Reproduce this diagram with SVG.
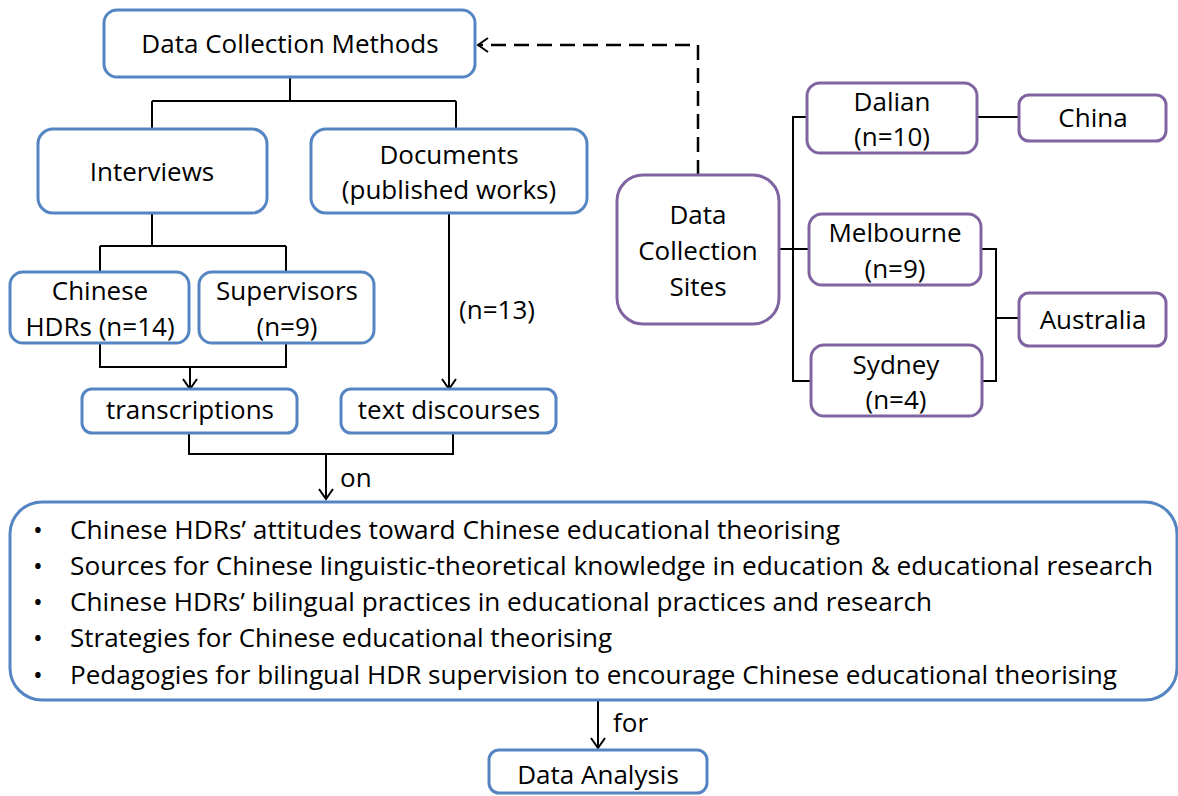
<svg xmlns="http://www.w3.org/2000/svg" width="1178" height="796" viewBox="0 0 1178 796">
  <style>
    text { font-family: "Open Sans", "Liberation Sans", sans-serif; font-size: 26px; fill: #000; }
    .c { text-anchor: middle; }
    .blue { fill: #fff; stroke: #5485C2; stroke-width: 3; }
    .purple { fill: #fff; stroke: #8064A2; stroke-width: 3; }
    .wire { fill: none; stroke: #000; stroke-width: 2; }
    .dash { fill: none; stroke: #000; stroke-width: 2.5; stroke-dasharray: 15 8; }
  </style>
  <defs>
    <marker id="arrow" markerWidth="16" markerHeight="16" refX="12" refY="8" orient="auto" markerUnits="userSpaceOnUse">
      <path d="M2,1 L12,8 L2,15" fill="none" stroke="#000" stroke-width="2"/>
    </marker>
  </defs>

  <rect width="1178" height="796" fill="#fff"/>

  <!-- connectors -->
  <g id="connectors">
    <path class="wire" d="M290,77 V101 M152,101 H456 M152,101 V129 M456,101 V129"/>
    <path class="wire" d="M152,213 V246 M100,246 H286 M100,246 V272 M286,246 V272"/>
    <path class="wire" d="M100,343 V367 H286 V343"/>
    <path class="wire" d="M190,367 V389" marker-end="url(#arrow)"/>
    <path class="wire" d="M449,213 V389" marker-end="url(#arrow)"/>
    <path class="wire" d="M189,433 V454 H453 V433"/>
    <path class="wire" d="M326,454 V499" marker-end="url(#arrow)"/>
    <path class="wire" d="M598,700 V748" marker-end="url(#arrow)"/>
    <path class="dash" d="M698,175 V45 H478" marker-end="url(#arrow)"/>
    <path class="wire" d="M779,249 H809 M807,117 H793 V381 H811"/>
    <path class="wire" d="M977,117 H1019"/>
    <path class="wire" d="M981,249 H996 V381 H982 M996,318 H1019"/>
  </g>

  <!-- method nodes -->
  <g id="methods">
    <rect class="blue" x="104" y="10" width="371" height="67" rx="13"/>
    <text class="c" x="290" y="53">Data Collection Methods</text>
  </g>
  <g id="interviews">
    <rect class="blue" x="38" y="129" width="229" height="84" rx="15"/>
    <text class="c" x="152" y="181">Interviews</text>
  </g>
  <g id="documents">
    <rect class="blue" x="311" y="129" width="276" height="84" rx="15"/>
    <text class="c" x="449" y="164">Documents</text>
    <text class="c" x="449" y="199">(published works)</text>
  </g>
  <g id="hdrs">
    <rect class="blue" x="10" y="272" width="179" height="71" rx="13"/>
    <text class="c" x="100" y="300">Chinese</text>
    <text class="c" x="100" y="336">HDRs (n=14)</text>
  </g>
  <g id="supervisors">
    <rect class="blue" x="199" y="272" width="175" height="71" rx="13"/>
    <text class="c" x="287" y="300">Supervisors</text>
    <text class="c" x="287" y="336">(n=9)</text>
  </g>
  <g id="transcriptions">
    <rect class="blue" x="82" y="389" width="215" height="44" rx="10"/>
    <text class="c" x="190" y="419">transcriptions</text>
  </g>
  <g id="discourses">
    <rect class="blue" x="341" y="389" width="215" height="44" rx="10"/>
    <text class="c" x="449" y="419">text discourses</text>
  </g>
  <g id="labels">
    <text class="c" x="497" y="319">(n=13)</text>
    <text x="340" y="487">on</text>
    <text x="613" y="732">for</text>
  </g>

  <!-- research focus list -->
  <g id="focus">
    <rect class="blue" x="10" y="502" width="1167" height="198" rx="32"/>
    <text class="c" x="38" y="539">•</text>
    <text class="c" x="38" y="575">•</text>
    <text class="c" x="38" y="611">•</text>
    <text class="c" x="38" y="647">•</text>
    <text class="c" x="38" y="684">•</text>
    <text x="70" y="539" textLength="770" lengthAdjust="spacingAndGlyphs">Chinese HDRs’ attitudes toward Chinese educational theorising</text>
    <text x="70" y="575" textLength="1083" lengthAdjust="spacingAndGlyphs">Sources for Chinese linguistic-theoretical knowledge in education &amp; educational research</text>
    <text x="70" y="611" textLength="862" lengthAdjust="spacingAndGlyphs">Chinese HDRs’ bilingual practices in educational practices and research</text>
    <text x="70" y="647">Strategies for Chinese educational theorising</text>
    <text x="70" y="684" textLength="1047" lengthAdjust="spacingAndGlyphs">Pedagogies for bilingual HDR supervision to encourage Chinese educational theorising</text>
  </g>
  <g id="analysis">
    <rect class="blue" x="489" y="750" width="218" height="43" rx="10"/>
    <text class="c" x="598" y="784">Data Analysis</text>
  </g>

  <!-- site nodes -->
  <g id="sites">
    <rect class="purple" x="617" y="175" width="162" height="149" rx="26"/>
    <text class="c" x="698" y="224">Data</text>
    <text class="c" x="698" y="260">Collection</text>
    <text class="c" x="698" y="296">Sites</text>
  </g>
  <g id="dalian">
    <rect class="purple" x="807" y="83" width="170" height="70" rx="13"/>
    <text class="c" x="892" y="111">Dalian</text>
    <text class="c" x="892" y="146">(n=10)</text>
  </g>
  <g id="melbourne">
    <rect class="purple" x="809" y="214" width="172" height="71" rx="13"/>
    <text class="c" x="895" y="242">Melbourne</text>
    <text class="c" x="895" y="278">(n=9)</text>
  </g>
  <g id="sydney">
    <rect class="purple" x="811" y="345" width="171" height="71" rx="13"/>
    <text class="c" x="896" y="374">Sydney</text>
    <text class="c" x="896" y="409">(n=4)</text>
  </g>
  <g id="china">
    <rect class="purple" x="1019" y="95" width="147" height="46" rx="10"/>
    <text class="c" x="1093" y="127">China</text>
  </g>
  <g id="australia">
    <rect class="purple" x="1019" y="293" width="147" height="53" rx="10"/>
    <text class="c" x="1093" y="329">Australia</text>
  </g>
</svg>
